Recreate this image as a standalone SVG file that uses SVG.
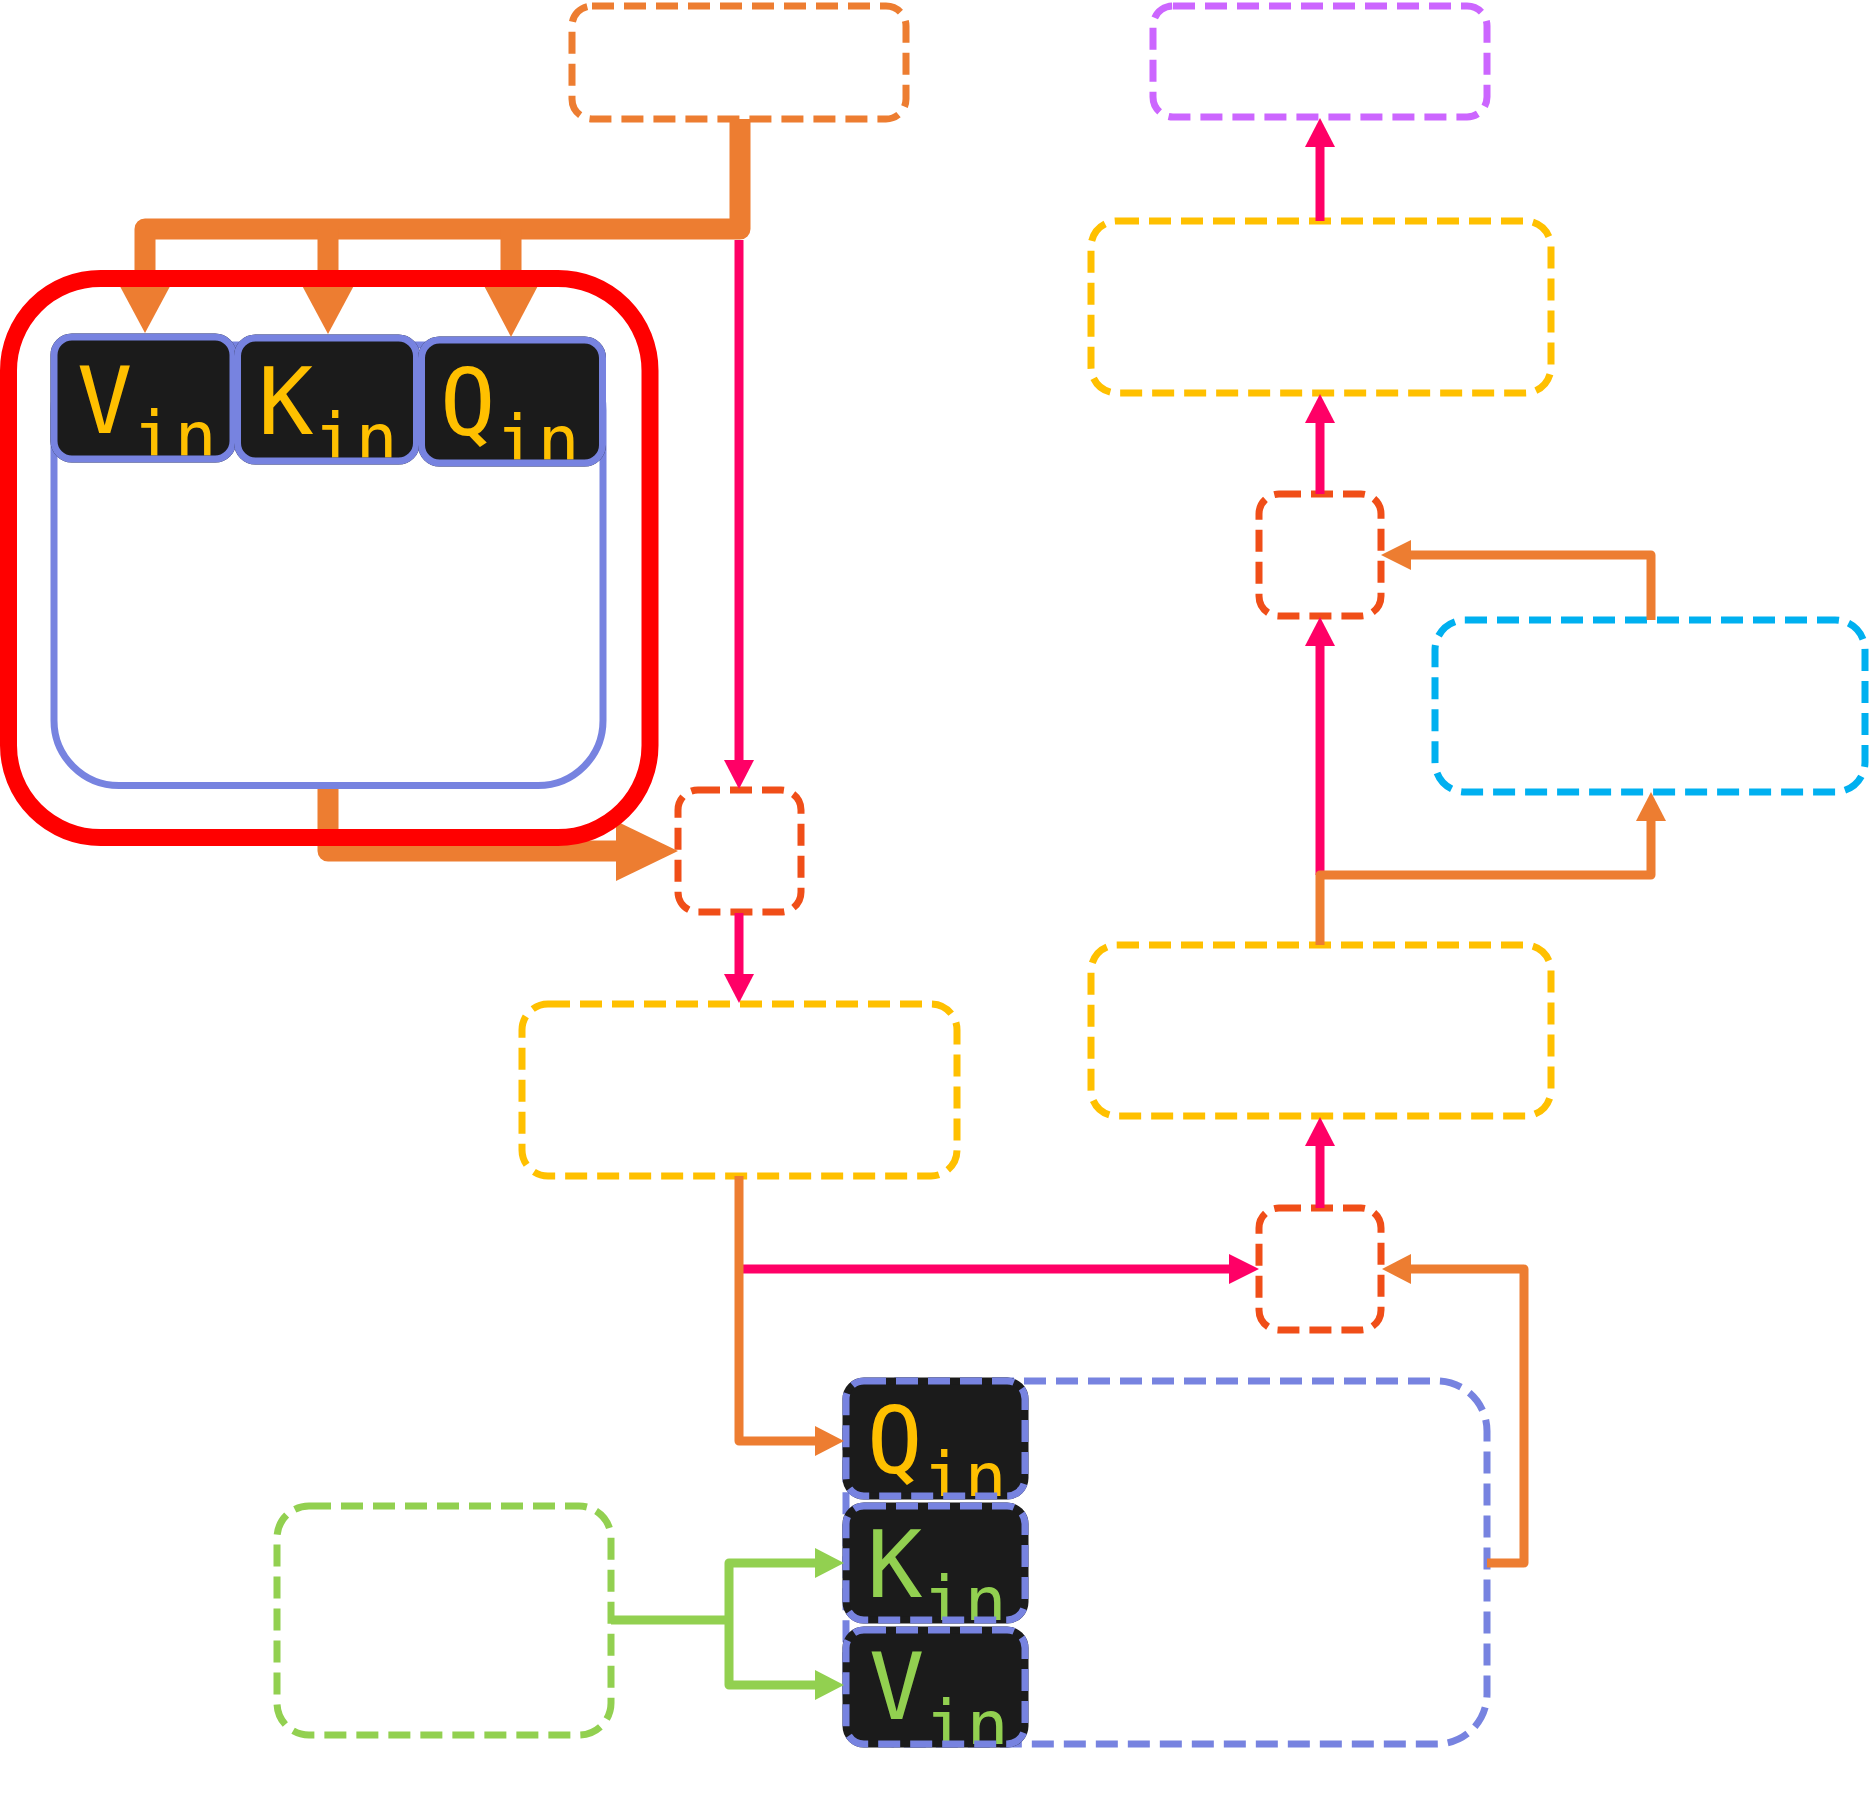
<svg xmlns="http://www.w3.org/2000/svg" width="1873" height="1806" viewBox="0 0 1873 1806">
<style>
.dash{fill:none;stroke-width:7;stroke-dasharray:22 10}
.o{stroke:#ED7D31}.p{stroke:#CC66FF}.y{stroke:#FFC000}.r{stroke:#F04E18}.c{stroke:#00B0F0}.g{stroke:#92D050}.b{stroke:#7783E0}
.dark{fill:#1B1B1B;stroke:#1B1B1B;stroke-width:7}
.solidb{fill:none;stroke:#7783E0;stroke-width:7}
.big{font-family:"DejaVu Sans Mono","Liberation Mono",monospace;font-size:92px}
.sub{font-size:70px}
.ty{fill:#FFC000}.tg{fill:#92D050}
.ln{fill:none;stroke-linejoin:round;stroke-linecap:butt}
.lo{stroke:#ED7D31}.lp{stroke:#FF0066}.lg{stroke:#92D050}
.ao{fill:#ED7D31}.ap{fill:#FF0066}.ag{fill:#92D050}
</style>
<defs>
<clipPath id="cv"><rect x="57.5" y="340.5" width="172" height="115" rx="15"/></clipPath>
<clipPath id="ck"><rect x="241" y="341.5" width="172" height="116" rx="15"/></clipPath>
<clipPath id="cq"><rect x="425" y="343.5" width="174" height="116" rx="15"/></clipPath>
<clipPath id="cq2"><rect x="846" y="1381" width="179" height="115" rx="18"/></clipPath>
<clipPath id="ck2"><rect x="846" y="1506" width="179" height="114" rx="18"/></clipPath>
<clipPath id="cv2"><rect x="846" y="1630" width="179" height="114" rx="18"/></clipPath>
</defs>
<rect width="1873" height="1806" fill="#FFFFFF"/>
<g id="n-top-orange"><rect class="dash o" x="572" y="6" width="334" height="113" rx="20"/></g>
<g id="n-purple"><rect class="dash p" x="1153" y="6" width="334" height="111" rx="20"/></g>
<g id="n-yellow-tr"><rect class="dash y" x="1091" y="221" width="460" height="172" rx="26"/></g>
<g id="n-small-upper"><rect class="dash r" x="1259" y="494" width="122" height="122" rx="20"/></g>
<g id="n-cyan"><rect class="dash c" x="1435" y="620" width="430" height="172" rx="30"/></g>
<g id="n-yellow-mr"><rect class="dash y" x="1091" y="945" width="460" height="171" rx="26"/></g>
<g id="n-small-lower"><rect class="dash r" x="1259" y="1208" width="122" height="122" rx="20"/></g>
<g id="n-small-mid"><rect class="dash r" x="678" y="790" width="123" height="122" rx="20"/></g>
<g id="n-yellow-ml"><rect class="dash y" x="522" y="1004" width="435" height="172" rx="26"/></g>
<g id="n-green"><rect class="dash g" x="277" y="1506" width="334" height="229" rx="32"/></g>
<g id="n-attn-lower">
<rect class="dash b" x="846" y="1381" width="641" height="363" rx="50"/>
<g id="n-q-lower"><rect class="dark" x="846" y="1381" width="179" height="115" rx="18"/>
<text class="big ty" x="867" y="1473" clip-path="url(#cq2)">Q<tspan class="sub" y="1502">in</tspan></text>
<rect class="dash b" x="846" y="1381" width="179" height="115" rx="18"/></g>
<g id="n-k-lower"><rect class="dark" x="846" y="1506" width="179" height="114" rx="18"/>
<text class="big tg" x="867" y="1597" clip-path="url(#ck2)">K<tspan class="sub" y="1626">in</tspan></text>
<rect class="dash b" x="846" y="1506" width="179" height="114" rx="18"/></g>
<g id="n-v-lower"><rect class="dark" x="846" y="1630" width="179" height="114" rx="18"/>
<text class="big tg" x="869" y="1719" clip-path="url(#cv2)">V<tspan class="sub" y="1750">in</tspan></text>
<rect class="dash b" x="846" y="1630" width="179" height="114" rx="18"/></g>
</g>
<g id="n-attn-upper">
<rect class="solidb" x="54" y="345" width="549" height="440.5" rx="65"/>
<g id="n-v-upper"><rect class="dark" x="54" y="337" width="179" height="122" rx="18"/>
<text class="big ty" x="77" y="433" clip-path="url(#cv)">V<tspan class="sub" y="461">in</tspan></text>
<rect class="solidb" x="54" y="337" width="179" height="122" rx="18"/></g>
<g id="n-k-upper"><rect class="dark" x="237.5" y="338" width="179" height="123" rx="18"/>
<text class="big ty" x="258" y="434" clip-path="url(#ck)">K<tspan class="sub" y="463">in</tspan></text>
<rect class="solidb" x="237.5" y="338" width="179" height="123" rx="18"/></g>
<g id="n-q-upper"><rect class="dark" x="421.5" y="340" width="181" height="123" rx="18"/>
<text class="big ty" x="440" y="435" clip-path="url(#cq)">Q<tspan class="sub" y="465">in</tspan></text>
<rect class="solidb" x="421.5" y="340" width="181" height="123" rx="18"/></g>
</g>
<g id="connectors">
<path class="ln lp" stroke-width="9" d="M739,240 V762"/>
<polygon class="ap" points="724,760 754,760 739,789"/>
<path class="ln lp" stroke-width="9" d="M739,913 V976"/>
<polygon class="ap" points="724,974 754,974 739,1003"/>
<path class="ln lp" stroke-width="9" d="M740,1269 H1231"/>
<polygon class="ap" points="1229,1254 1229,1284 1259,1269"/>
<path class="ln lp" stroke-width="9" d="M1320,1208 V1144"/>
<polygon class="ap" points="1305,1146 1335,1146 1320,1117"/>
<path class="ln lp" stroke-width="9" d="M1320,875 V644"/>
<polygon class="ap" points="1305,646 1335,646 1320,617"/>
<path class="ln lp" stroke-width="9" d="M1320,494 V421"/>
<polygon class="ap" points="1305,423 1335,423 1320,394"/>
<path class="ln lp" stroke-width="9" d="M1320,221 V145"/>
<polygon class="ap" points="1305,147 1335,147 1320,118"/>
<path class="ln lo" stroke-width="21" d="M740,119 V229 H145 V279"/>
<path class="ln lo" stroke-width="21" d="M328,229 V279 M511,229 V281"/>
<polygon class="ao" points="115,277 175,277 145,333"/>
<polygon class="ao" points="298,278 358,278 328,334"/>
<polygon class="ao" points="481,280 541,280 511,337"/>
<path class="ln lo" stroke-width="21" d="M328,789 V851 H618"/>
<polygon class="ao" points="616,821 616,881 678,851"/>
<path class="ln lo" stroke-width="9" d="M739,1176 V1441 H817"/>
<polygon class="ao" points="815,1426 815,1456 844,1441"/>
<path class="ln lo" stroke-width="9" d="M1487,1563 H1524 V1269 H1409"/>
<polygon class="ao" points="1411,1254 1411,1284 1382,1269"/>
<path class="ln lo" stroke-width="9" d="M1320,945 V875 H1651 V819"/>
<polygon class="ao" points="1636,821 1666,821 1651,792"/>
<path class="ln lo" stroke-width="9" d="M1651,620 V555 H1409"/>
<polygon class="ao" points="1411,540 1411,570 1381,555"/>
<path class="ln lg" stroke-width="9" d="M611,1620 H729 M817,1563 H729 V1685 H817"/>
<polygon class="ag" points="815,1548 815,1578 844,1563"/>
<polygon class="ag" points="815,1670 815,1700 844,1685"/>
</g>
<g id="n-red-frame"><rect x="8.5" y="278.5" width="641.5" height="559" rx="92" fill="none" stroke="#FF0000" stroke-width="17"/></g>
</svg>
